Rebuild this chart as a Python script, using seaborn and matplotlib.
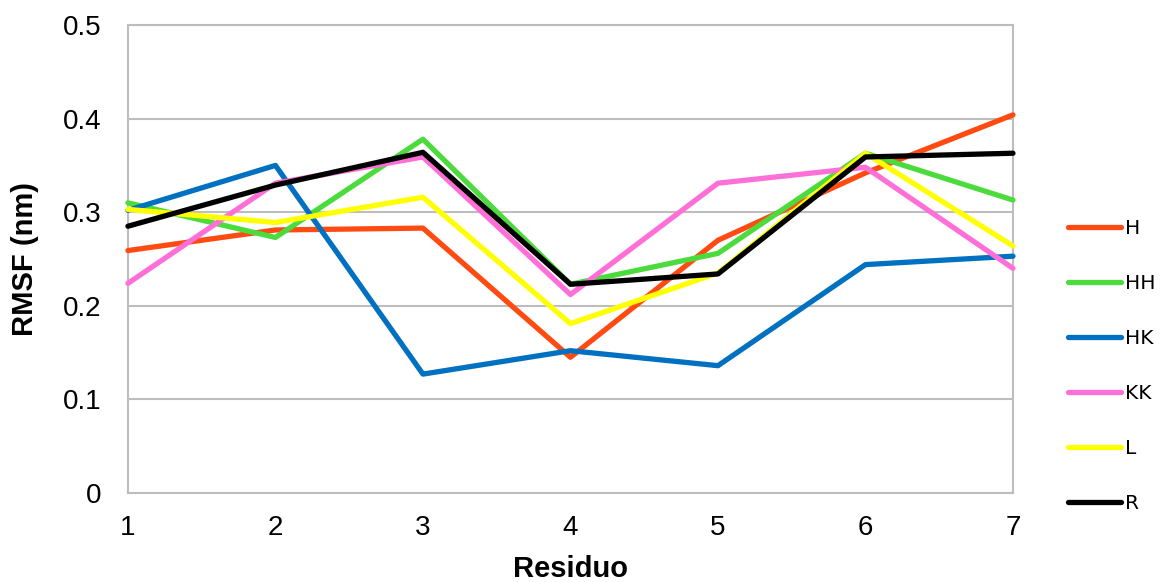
import matplotlib
matplotlib.use("Agg")
import matplotlib.pyplot as plt
import seaborn as sns
import pandas as pd

# RMSF per residue for each system
residues = [1, 2, 3, 4, 5, 6, 7]
rmsf_H = [0.259, 0.281, 0.283, 0.145, 0.270, 0.342, 0.404]
rmsf_HH = [0.310, 0.273, 0.378, 0.223, 0.256, 0.363, 0.313]
rmsf_HK = [0.302, 0.350, 0.127, 0.152, 0.136, 0.244, 0.253]
rmsf_KK = [0.224, 0.331, 0.359, 0.212, 0.331, 0.348, 0.240]
rmsf_L = [0.303, 0.289, 0.316, 0.181, 0.235, 0.363, 0.264]
rmsf_R = [0.285, 0.329, 0.364, 0.223, 0.234, 0.359, 0.363]

series_names = ["H", "HH", "HK", "KK", "L", "R"]
series_values = [rmsf_H, rmsf_HH, rmsf_HK, rmsf_KK, rmsf_L, rmsf_R]
colors = ["#FF4A12", "#4CDB3C", "#0070C0", "#FF6FD8", "#FFFF00", "#000000"]

y_ticks = [0, 0.1, 0.2, 0.3, 0.4, 0.5]
y_ticklabels = ["0", "0.1", "0.2", "0.3", "0.4", "0.5"]

rows = []
for name, vals in zip(series_names, series_values):
    for r, v in zip(residues, vals):
        rows.append({"Residuo": r, "RMSF": v, "Sistema": name})
df = pd.DataFrame(rows)

sns.set_theme(style="white")
plt.rcParams["font.family"] = ["Liberation Sans", "DejaVu Sans"]
plt.rcParams["text.color"] = "black"
plt.rcParams["axes.labelcolor"] = "black"

fig = plt.figure(figsize=(11.63, 5.82), dpi=100)
ax = fig.add_axes([0.110, 0.153, 0.761, 0.804])

sns.lineplot(data=df, x="Residuo", y="RMSF", hue="Sistema",
             hue_order=series_names, palette=dict(zip(series_names, colors)),
             linewidth=3.8, ax=ax, legend=False, zorder=3, clip_on=False)

grid_color = "#BDBDBD"
ax.set_xlim(1, 7)
ax.set_ylim(0, 0.5)
ax.set_yticks(y_ticks)
ax.set_yticklabels(y_ticklabels)
ax.set_xticks(residues)
ax.set_xticklabels([str(r) for r in residues])
ax.yaxis.grid(True, color=grid_color, linewidth=1.5)
ax.xaxis.grid(False)
for sp in ax.spines.values():
    sp.set_visible(True)
    sp.set_color(grid_color)
    sp.set_linewidth(1.5)
ax.tick_params(axis="both", which="major", length=7, width=1.5, color=grid_color,
               direction="out", labelsize=20, labelcolor="black")
ax.tick_params(axis="y", pad=12)
ax.tick_params(axis="x", pad=9)

ax.set_xlabel("Residuo", fontsize=21, fontweight="bold", labelpad=10)
ax.set_ylabel("RMSF (nm)", fontsize=21, fontweight="bold", labelpad=17)

# Legend on the right
handles = [plt.Line2D([0], [0], color=c, linewidth=3.8, solid_capstyle="round")
           for c in colors]
leg = fig.legend(handles, series_names, loc="center left",
                 bbox_to_anchor=(0.903, 0.371), frameon=False,
                 handlelength=2.6, handletextpad=0.2,
                 labelspacing=1.78, prop={"family": ["DejaVu Sans"], "size": 14.5})

fig.savefig("out.png", dpi=100, facecolor="white")
